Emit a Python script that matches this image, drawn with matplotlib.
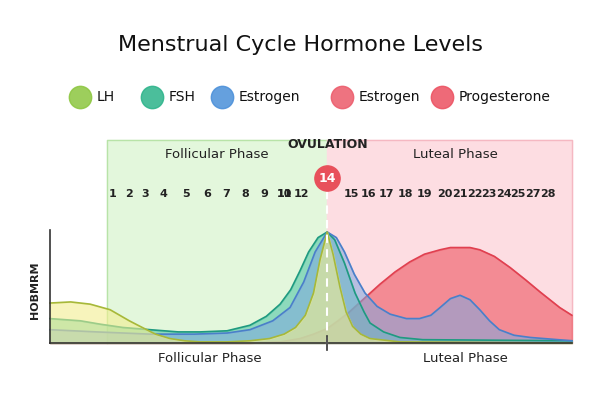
import matplotlib
matplotlib.use("Agg")
import matplotlib.pyplot as plt
import numpy as np

# --- data (x in cycle-day units, y in relative level) ---
lh_x = [-2.87,-1.6,-0.4,0.82,2.0,2.66,3.6,4.5,5.4,6.34,8.0,9.4,10.6,11.5,12.2,12.8,13.3,13.7,14.14,14.5,14.93,15.3,15.7,16.2,16.77,18.6,29.15]
lh_y = [36,37,35,30,20,15,8,4,2,1,1,2,4,8,14,25,45,75,100,80,50,28,15,8,4,1,0]
fsh_x = [-2.87,-1,0.2,1.6,3.27,5,6.34,8,9.4,10.4,11.25,11.9,12.47,13.0,13.58,14.14,14.6,15.2,15.85,16.4,16.77,17.6,18.6,20,29.15]
fsh_y = [22,20,17,14,12,10,10,11,16,24,35,48,65,82,95,100,93,72,45,28,18,10,5,3,2]
est_x = [-2.87,0,3.27,6,8,9.4,10.8,11.86,12.7,13.4,14.14,14.7,15.2,15.8,16.46,17.2,18.0,19.0,19.8,20.5,21.07,21.7,22.29,22.9,23.5,24.1,24.7,25.6,26.6,29.15]
est_y = [12,10,8,8,9,12,20,32,55,82,100,95,82,62,45,33,26,22,22,25,32,40,43,39,30,20,12,7,5,2]
prog_x = [-2.87,9.4,11.25,12.47,13.3,14.14,14.8,15.5,16.4,17.38,18.3,19.2,20.1,21.07,21.7,22.29,22.9,23.5,24.4,25.36,26.3,27.2,28.4,29.15]
prog_y = [0,0,1,4,8,13,20,28,40,53,64,73,80,84,86,86,86,84,78,68,57,46,32,25]
day_labels = ["1","2","3","4","5","6","7","8","9","10","11","12",
              "15","16","17","18","19","20","21","22","23","24","25","27","28"]
day_px = [113,129,145,163,186,207,226,245,264,284,301,301,
          351,369,386,405,425,445,460,475,489,504,518,533,548]
legend_names = ["LH","FSH","Estrogen","Estrogen","Progesterone"]
legend_colors = ["#8cc63f","#2bb38a","#4a8fd9","#ec5a6a","#ec5060"]

def d(px):
    return (px-96.7)/16.3

fig = plt.figure(figsize=(6,4), dpi=100)
ax = fig.add_axes([0,0,1,1])
ax.set_xlim(d(0), d(600))
ax.set_ylim((343-400)/1.11, 343/1.11)
ax.axis("off")
Y = lambda py: (343-py)/1.11
day_px[11] = 301; day_px[10] = 284

# shaded phases
ax.fill_between([d(107), 14.14], 0, Y(140), color="#e3f7dc", zorder=0)
ax.plot([d(107), d(107), 14.14], [0, Y(140), Y(140)], color="#b8e3a8", lw=1, zorder=0)
ax.fill_between([14.14, d(572)], 0, Y(140), color="#fddde2", zorder=0)
ax.plot([14.14, d(572), d(572)], [Y(140), Y(140), 0], color="#f5b8c2", lw=1, zorder=0)

ax.fill_between(prog_x, prog_y, color="#f0707a", alpha=0.75, zorder=2)
ax.plot(prog_x, prog_y, color="#e04050", lw=1.2, zorder=3)
ax.fill_between(fsh_x, fsh_y, color="#55c8a8", alpha=0.6, zorder=4)
ax.plot(fsh_x, fsh_y, color="#1f9a80", lw=1.2, zorder=5)
ax.fill_between(est_x, est_y, color="#7fa8e0", alpha=0.55, zorder=4)
ax.plot(est_x, est_y, color="#4a7fc9", lw=1.2, zorder=5)
ax.fill_between(lh_x, lh_y, color="#f2ee90", alpha=0.6, zorder=6)
ax.plot(lh_x, lh_y, color="#a6b83a", lw=1.2, zorder=7)

# axes lines
ax.plot([d(50), d(50)], [0, Y(230)], color="#333333", lw=1.2, zorder=8)
ax.plot([d(50), d(572)], [0, 0], color="#333333", lw=1.2, zorder=8)
ax.plot([14.14, 14.14], [Y(345), Y(190)], color="white", lw=1.5, ls=(0,(4,3)), zorder=9)
ax.plot([14.14, 14.14], [Y(350), Y(336)], color="#333333", lw=1.2, zorder=9)

# days
for lab, px in zip(day_labels, day_px):
    ax.text(d(px), Y(194), lab, ha="center", va="center", fontsize=8, fontweight="bold", color="#222222", zorder=10)
ax.scatter([14.14], [Y(178)], s=330, marker="o", color="#e8505b", zorder=10)
ax.text(14.14, Y(178), "14", ha="center", va="center", fontsize=9, fontweight="bold", color="white", zorder=11)

ax.text(d(217), Y(155), "Follicular Phase", ha="center", va="center", fontsize=9.5, color="#222222")
ax.text(d(455), Y(155), "Luteal Phase", ha="center", va="center", fontsize=9.5, color="#222222")
ax.text(14.2, Y(145), "OVULATION", ha="center", va="center", fontsize=9, fontweight="bold", color="#222222")
ax.text(d(210), Y(359), "Follicular Phase", ha="center", va="center", fontsize=9.5, color="#222222")
ax.text(d(465), Y(359), "Luteal Phase", ha="center", va="center", fontsize=9.5, color="#222222")
ax.text(d(35), Y(290), "HOBMRM", ha="center", va="center", rotation=90, fontsize=8, fontweight="bold", color="#222222")

fig.text(0.5, 1-45/400, "Menstrual Cycle Hormone Levels", ha="center", va="center", fontsize=16, color="#111111")
icon_px = [80,152,222,342,442]
for name, col, px in zip(legend_names, legend_colors, icon_px):
    ax.scatter([d(px)], [Y(97)], s=260, color=col, alpha=0.85, zorder=10)
    ax.text(d(px+17), Y(97), name, ha="left", va="center", fontsize=10, color="#111111")

fig.savefig("out.png", dpi=100, facecolor="white")
